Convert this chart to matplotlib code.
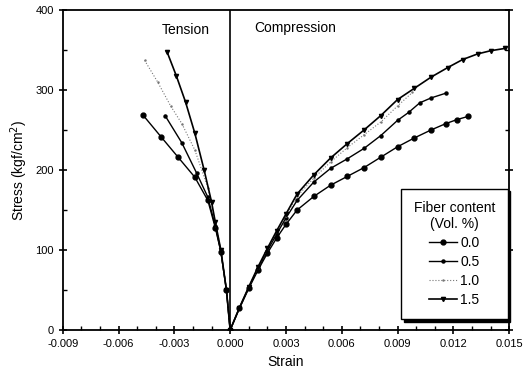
import numpy as np
import matplotlib
matplotlib.use("Agg")
import matplotlib.pyplot as plt
from matplotlib.ticker import MultipleLocator, FormatStrFormatter

plt.rcParams['font.family'] = ['Liberation Sans', 'DejaVu Sans']

# fiber contents (Vol. %)
labels = ["0.0", "0.5", "1.0", "1.5"]

# tension branch (negative strain)
t_strain_00 = [-0.0047, -0.0037, -0.0028, -0.0019, -0.0012, -0.0008, -0.0005, -0.0002, 0.0]
t_stress_00 = [269, 241, 216, 191, 162, 128, 98, 50, 0]
t_strain_05 = [-0.0035, -0.0026, -0.0018, -0.0012, -0.0008, -0.0005, -0.0002, 0.0]
t_stress_05 = [268, 234, 196, 166, 130, 98, 50, 0]
t_strain_10 = [-0.0046, -0.0039, -0.0032, -0.0026, -0.0019, -0.0012, -0.0008, -0.0005, -0.0002, 0.0]
t_stress_10 = [337, 310, 280, 258, 225, 178, 135, 100, 50, 0]
t_strain_15 = [-0.0034, -0.0029, -0.0024, -0.0019, -0.0014, -0.0010, -0.0008, -0.0005, -0.0002, 0.0]
t_stress_15 = [348, 318, 285, 246, 200, 160, 135, 100, 50, 0]

# compression branch (positive strain)
c_strain_00 = [0.0005, 0.001, 0.0015, 0.002, 0.0025, 0.003, 0.0036, 0.0045, 0.0054, 0.0063,
               0.0072, 0.0081, 0.009, 0.0099, 0.0108, 0.0116, 0.0122, 0.0128]
c_stress_00 = [27, 52, 75, 96, 115, 132, 150, 167, 181, 192, 203, 216, 229, 240, 250, 258, 263, 267]
c_strain_05 = [0.0005, 0.001, 0.0015, 0.002, 0.0025, 0.003, 0.0036, 0.0045, 0.0054, 0.0063,
               0.0072, 0.0081, 0.009, 0.0096, 0.0102, 0.0108, 0.0116]
c_stress_05 = [28, 53, 77, 99, 120, 140, 162, 185, 202, 214, 227, 243, 262, 272, 284, 290, 296]
c_strain_10 = [0.0005, 0.001, 0.0015, 0.002, 0.0025, 0.003, 0.0036, 0.0045, 0.0054, 0.0063,
               0.0072, 0.0081, 0.009, 0.0098]
c_stress_10 = [28, 54, 78, 101, 123, 143, 167, 190, 210, 228, 244, 260, 280, 297]
c_strain_15 = [0.0005, 0.001, 0.0015, 0.002, 0.0025, 0.003, 0.0036, 0.0045, 0.0054, 0.0063,
               0.0072, 0.0081, 0.009, 0.0099, 0.0108, 0.0117, 0.0125, 0.0133, 0.014, 0.0148]
c_stress_15 = [28, 54, 79, 102, 124, 145, 170, 194, 215, 233, 250, 268, 288, 302, 316, 328, 338, 345, 349, 352]

series = [
    (t_strain_00, t_stress_00, c_strain_00, c_stress_00),
    (t_strain_05, t_stress_05, c_strain_05, c_stress_05),
    (t_strain_10, t_stress_10, c_strain_10, c_stress_10),
    (t_strain_15, t_stress_15, c_strain_15, c_stress_15),
]
styles = [
    dict(marker='o', markersize=3.5, linestyle='-', linewidth=1.0, color='black'),
    dict(marker='o', markersize=2.2, linestyle='-', linewidth=1.0, color='black'),
    dict(marker='.', markersize=1.5, linestyle=':', linewidth=0.8, color='#777777'),
    dict(marker='v', markersize=3.0, linestyle='-', linewidth=1.2, color='black'),
]

fig = plt.figure(figsize=(5.32, 3.82), dpi=100)
ax = fig.add_axes([0.118, 0.136, 0.839, 0.838])

for (ts, tsg, cs, csg), lab, st in zip(series, labels, styles):
    x = list(ts) + list(cs)
    y = list(tsg) + list(csg)
    ax.plot(x, y, label=lab, **st)

ax.axvline(0, color='black', linewidth=1.2)

ax.set_xlim(-0.009, 0.015)
ax.set_ylim(0, 400)
ax.xaxis.set_major_locator(MultipleLocator(0.003))
ax.xaxis.set_minor_locator(MultipleLocator(0.001))
ax.xaxis.set_major_formatter(FormatStrFormatter('%.3f'))
ax.yaxis.set_major_locator(MultipleLocator(100))
ax.yaxis.set_minor_locator(MultipleLocator(50))
ax.tick_params(which='major', direction='inout', length=6, width=1.2, labelsize=8,
               right=True, top=False)
ax.tick_params(which='minor', direction='in', length=3, width=1.0, right=True, top=False)
for sp in ax.spines.values():
    sp.set_linewidth(1.3)

ax.set_xlabel('Strain', fontsize=10)
ax.set_ylabel('Stress (kgf/cm$^{2}$)', fontsize=10)

ax.text(-0.0024, 375, 'Tension', fontsize=10, ha='center', va='center')
ax.text(0.0013, 378, 'Compression', fontsize=10, ha='left', va='center')

leg = ax.legend(title='Fiber content\n(Vol. %)', loc='lower right',
                bbox_to_anchor=(1.012, 0.012), fontsize=10, title_fontsize=10,
                frameon=True, fancybox=False, shadow={'color': 'black', 'alpha': 1},
                handlelength=2.0, handletextpad=0.2, borderpad=0.9, labelspacing=0.35,
                markerfirst=True)
leg.get_frame().set_edgecolor('black')
leg.get_frame().set_linewidth(1.0)
leg.get_title().set_multialignment('center')

fig.savefig('out.png', dpi=100)
